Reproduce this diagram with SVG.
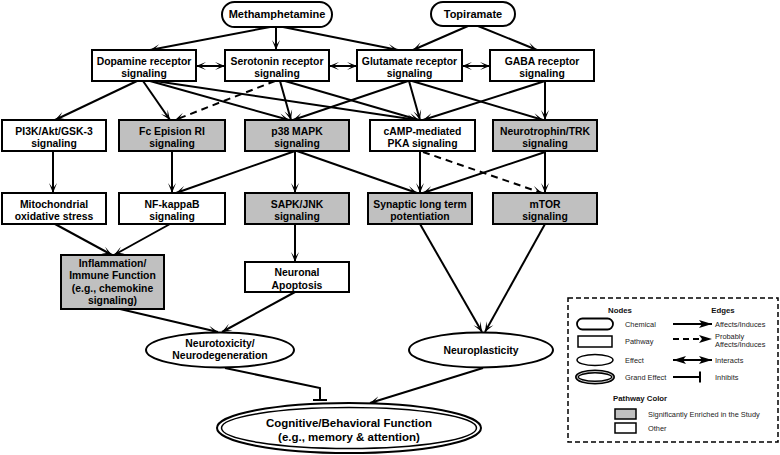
<svg xmlns="http://www.w3.org/2000/svg" width="780" height="455" viewBox="0 0 780 455">
<defs>
<style>
.t{font-family:"Liberation Sans",Arial,sans-serif;font-weight:bold;font-size:10.4px;fill:#000;text-anchor:middle}
.tc{font-size:11px}
.tg{font-size:11.5px}
.box{fill:#fff;stroke:#000;stroke-width:2}
.gray{fill:#c0c0c0}
.e{fill:none;stroke:#000;stroke-width:2;marker-end:url(#ah)}
.d{stroke-dasharray:7,5}
.bi{marker-start:url(#ah)}
.lt{font-family:"Liberation Sans",Arial,sans-serif;font-size:7.4px;fill:#222}
.lh{font-family:"Liberation Sans",Arial,sans-serif;font-size:7.8px;font-weight:bold;fill:#111}
</style>
<marker id="ah" markerUnits="userSpaceOnUse" markerWidth="11" markerHeight="9" refX="10" refY="4.5" orient="auto-start-reverse">
<path d="M0,0.5 L10,4.5 L0,8.5 L5.5,4.5 z" fill="#000"/>
</marker>
<marker id="lah" markerUnits="userSpaceOnUse" markerWidth="14" markerHeight="10" refX="13" refY="5" orient="auto-start-reverse">
<path d="M0,1 L13,5 L0,9 L3,5 z" fill="#000"/>
</marker>
</defs>
<rect width="780" height="455" fill="#fff"/>

<g id="connectors">
<line class="e" x1="270" y1="27" x2="150" y2="50"/>
<line class="e" x1="276" y1="27" x2="276" y2="50"/>
<line class="e" x1="283" y1="27" x2="398" y2="50"/>
<line class="e" x1="468" y1="26" x2="413" y2="50"/>
<line class="e" x1="478" y1="26" x2="537" y2="50"/>
<line class="e bi" x1="196" y1="66" x2="225" y2="66"/>
<line class="e bi" x1="329" y1="66" x2="357" y2="66"/>
<line class="e bi" x1="462" y1="66" x2="490" y2="66"/>
<line class="e" x1="137" y1="81" x2="55" y2="120"/>
<line class="e" x1="143" y1="81" x2="170" y2="120"/>
<line class="e" x1="150" y1="81" x2="289" y2="120"/>
<line class="e" x1="155" y1="81" x2="417" y2="120"/>
<line class="e d" x1="275" y1="81" x2="175" y2="120"/>
<line class="e" x1="280" y1="81" x2="291" y2="120"/>
<line class="e" x1="285" y1="81" x2="419" y2="120"/>
<line class="e" x1="408" y1="81" x2="293" y2="120"/>
<line class="e" x1="409" y1="81" x2="420" y2="120"/>
<line class="e" x1="412" y1="81" x2="543" y2="120"/>
<line class="e" x1="545" y1="81" x2="423" y2="120"/>
<line class="e" x1="545" y1="81" x2="545" y2="120"/>
<line class="e" x1="53" y1="151" x2="53" y2="193"/>
<line class="e" x1="172" y1="151" x2="172" y2="193"/>
<line class="e" x1="295" y1="151" x2="176" y2="193"/>
<line class="e" x1="295" y1="151" x2="295" y2="193"/>
<line class="e" x1="297" y1="151" x2="417" y2="193"/>
<line class="e" x1="420" y1="152" x2="420" y2="193"/>
<line class="e d" x1="423" y1="152" x2="542" y2="193"/>
<line class="e" x1="545" y1="152" x2="423" y2="193"/>
<line class="e" x1="545" y1="152" x2="545" y2="193"/>
<line class="e" x1="55" y1="224" x2="112" y2="255"/>
<line class="e" x1="170" y1="224" x2="114" y2="255"/>
<line class="e" x1="295" y1="224" x2="295" y2="262"/>
<line class="e" x1="420" y1="224" x2="482" y2="332"/>
<line class="e" x1="545" y1="224" x2="485" y2="332"/>
<line class="e" x1="120" y1="309" x2="218" y2="332"/>
<line class="e" x1="295" y1="292" x2="222" y2="332"/>
<polyline points="225,368 320,388 320,400" fill="none" stroke="#000" stroke-width="2"/>
<line x1="313" y1="400" x2="327" y2="400" stroke="#000" stroke-width="2"/>
<line class="e" x1="483" y1="368" x2="370" y2="403"/>
</g>

<g id="methamphetamine"><rect class="box" x="222" y="2" width="110" height="25" rx="12.5"/><text class="t tc" x="277" y="18">Methamphetamine</text></g>
<g id="topiramate"><rect class="box" x="431" y="2" width="84" height="24" rx="12"/><text class="t tc" x="473" y="17.5">Topiramate</text></g>

<g id="dopamine"><rect class="box" x="92" y="50" width="104" height="31"/><text class="t" x="144" y="64.5">Dopamine receptor</text><text class="t" x="144" y="76.5">signaling</text></g>
<g id="serotonin"><rect class="box" x="225" y="50" width="104" height="31"/><text class="t" x="277" y="64.5">Serotonin receptor</text><text class="t" x="277" y="76.5">signaling</text></g>
<g id="glutamate"><rect class="box" x="357" y="50" width="105" height="31"/><text class="t" x="409.5" y="64.5">Glutamate receptor</text><text class="t" x="409.5" y="76.5">signaling</text></g>
<g id="gaba"><rect class="box" x="490" y="50" width="104" height="31"/><text class="t" x="542" y="64.5">GABA receptor</text><text class="t" x="542" y="76.5">signaling</text></g>

<g id="pi3k"><rect class="box" x="2" y="120" width="104" height="31"/><text class="t" x="54" y="134.5">PI3K/Akt/GSK-3</text><text class="t" x="54" y="146.5">signaling</text></g>
<g id="fc"><rect class="box gray" x="119" y="120" width="106" height="31"/><text class="t" x="172" y="134.5">Fc Epision RI</text><text class="t" x="172" y="146.5">signaling</text></g>
<g id="p38"><rect class="box gray" x="245" y="120" width="104" height="31"/><text class="t" x="297" y="134.5">p38 MAPK</text><text class="t" x="297" y="146.5">signaling</text></g>
<g id="camp"><rect class="box" x="370" y="120" width="105" height="31"/><text class="t" x="422.5" y="134.5">cAMP-mediated</text><text class="t" x="422.5" y="146.5">PKA signaling</text></g>
<g id="neurotrophin"><rect class="box gray" x="493" y="120" width="104" height="31"/><text class="t" x="545" y="134.5">Neurotrophin/TRK</text><text class="t" x="545" y="146.5">signaling</text></g>

<g id="mito"><rect class="box" x="2" y="193" width="104" height="31"/><text class="t" x="54" y="207.5">Mitochondrial</text><text class="t" x="54" y="219.5">oxidative stress</text></g>
<g id="nfkb"><rect class="box" x="119" y="193" width="106" height="31"/><text class="t" x="172" y="207.5">NF-kappaB</text><text class="t" x="172" y="219.5">signaling</text></g>
<g id="sapk"><rect class="box gray" x="245" y="193" width="104" height="31"/><text class="t" x="297" y="207.5">SAPK/JNK</text><text class="t" x="297" y="219.5">signaling</text></g>
<g id="synaptic"><rect class="box gray" x="368" y="193" width="104" height="31"/><text class="t" x="420" y="207.5">Synaptic long term</text><text class="t" x="420" y="219.5">potentiation</text></g>
<g id="mtor"><rect class="box gray" x="493" y="193" width="104" height="31"/><text class="t" x="545" y="207.5">mTOR</text><text class="t" x="545" y="219.5">signaling</text></g>

<g id="inflammation"><rect class="box gray" x="61" y="255" width="103" height="54"/><text class="t" x="112.5" y="267">Inflammation/</text><text class="t" x="112.5" y="279.3">Immune Function</text><text class="t" x="112.5" y="291.6">(e.g., chemokine</text><text class="t" x="112.5" y="304">signaling)</text></g>
<g id="apoptosis"><rect class="box" x="245" y="262" width="104" height="30"/><text class="t" x="297" y="276">Neuronal</text><text class="t" x="297" y="288.5">Apoptosis</text></g>

<g id="neurotoxicity"><ellipse cx="220" cy="350" rx="74" ry="17.5" fill="#fff" stroke="#000" stroke-width="2"/><text class="t" x="220" y="347">Neurotoxicity/</text><text class="t" x="220" y="358.5">Neurodegeneration</text></g>
<g id="neuroplasticity"><ellipse cx="481" cy="350" rx="72" ry="17.5" fill="#fff" stroke="#000" stroke-width="2"/><text class="t" x="481" y="353.5">Neuroplasticity</text></g>

<g id="cognitive"><ellipse cx="349" cy="428" rx="132" ry="25" fill="#fff" stroke="#000" stroke-width="2"/><ellipse cx="349" cy="428" rx="127.5" ry="20.5" fill="none" stroke="#000" stroke-width="1.5"/><text class="t tg" x="349" y="427">Cognitive/Behavioral Function</text><text class="t tg" x="349" y="441">(e.g., memory &amp; attention)</text></g>

<g id="legend">
<rect x="568" y="298" width="210" height="144" fill="#fff" stroke="#000" stroke-width="1.5" stroke-dasharray="5,3"/>
<text class="lh" x="620" y="313" text-anchor="middle">Nodes</text>
<text class="lh" x="723" y="313" text-anchor="middle">Edges</text>
<rect x="577" y="318.5" width="36" height="11" rx="5.5" fill="#fff" stroke="#000" stroke-width="1.8"/>
<text class="lt" x="625" y="327">Chemical</text>
<rect x="578" y="336" width="34" height="11" fill="#fff" stroke="#000" stroke-width="1.5"/>
<text class="lt" x="625" y="344">Pathway</text>
<ellipse cx="595" cy="360" rx="18" ry="5.5" fill="#fff" stroke="#000" stroke-width="1.5"/>
<text class="lt" x="625" y="363">Effect</text>
<ellipse cx="595" cy="377" rx="18" ry="5.5" fill="#fff" stroke="#000" stroke-width="4"/>
<ellipse cx="595" cy="377" rx="18" ry="5.5" fill="none" stroke="#fff" stroke-width="0.8"/>
<text class="lt" x="625" y="380">Grand Effect</text>
<line x1="673" y1="324" x2="712" y2="324" stroke="#000" stroke-width="2" marker-end="url(#lah)"/>
<text class="lt" x="715" y="327">Affects/Induces</text>
<line x1="673" y1="339" x2="712" y2="339" stroke="#000" stroke-width="2" stroke-dasharray="6,4" marker-end="url(#lah)"/>
<text class="lt" x="715" y="338.5">Probably</text>
<text class="lt" x="715" y="347">Affects/Induces</text>
<line x1="673" y1="360" x2="712" y2="360" stroke="#000" stroke-width="2" marker-start="url(#lah)" marker-end="url(#lah)"/>
<text class="lt" x="715" y="363">Interacts</text>
<line x1="673" y1="377" x2="700" y2="377" stroke="#000" stroke-width="2"/>
<line x1="700" y1="371.5" x2="700" y2="382.5" stroke="#000" stroke-width="2"/>
<text class="lt" x="715" y="380">Inhibits</text>
<text class="lh" x="613" y="401">Pathway Color</text>
<rect x="615" y="409" width="21" height="10" fill="#c0c0c0" stroke="#000" stroke-width="1.5"/>
<text class="lt" x="648" y="417">Significantly Enriched in the Study</text>
<rect x="615" y="423" width="21" height="10" fill="#fff" stroke="#000" stroke-width="1.5"/>
<text class="lt" x="648" y="431">Other</text>
</g>
</svg>
